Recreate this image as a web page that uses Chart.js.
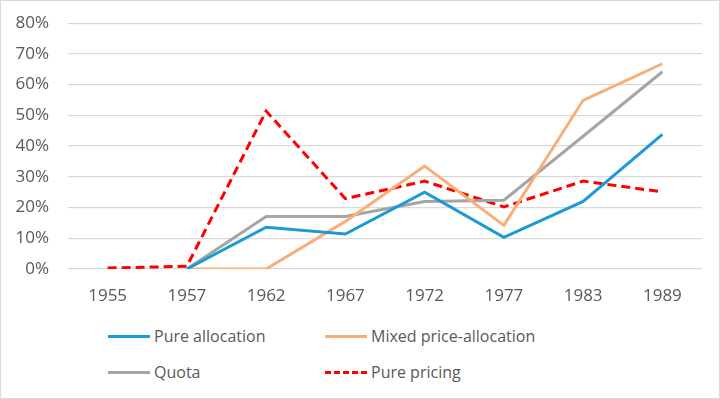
<!DOCTYPE html>
<html>
<head>
<meta charset="utf-8">
<script src="https://cdn.jsdelivr.net/npm/chart.js@4/dist/chart.umd.min.js"></script>
<style>
    body { margin: 0; background: #fff; }
    #wrap {
        position: relative;
        width: 718px;
        height: 397px;
        border: 1px solid #d9d9d9;
        font-family: "Open Sans", sans-serif;
    }
    #chartBox { position: absolute; left: 0; top: -7px; width: 718px; height: 319px; }
    #legend {
        position: absolute;
        left: 107px;
        top: 323px;
        display: grid;
        grid-template-columns: 217px 260px;
        row-gap: 12px;
        font-size: 16px;
        color: #595959;
    }
    .item { display: flex; align-items: center; height: 24px; }
    .swatch { width: 42px; height: 0; margin-right: 4px; }
</style>
</head>
<body>
<div id="wrap">
    <div id="chartBox"><canvas id="chart"></canvas></div>
    <div id="legend"></div>
</div>
<script>
const years = ["1955", "1957", "1962", "1967", "1972", "1977", "1983", "1989"];

const pureAllocation = [null, 0, 13.6, 11.4, 25.0, 10.3, 22.0, 43.8];
const mixedPriceAllocation = [null, 0, 0, 15.5, 33.5, 14.2, 54.9, 66.8];
const quota = [null, 0, 17.1, 17.1, 22.0, 22.4, 43.2, 64.2];
const purePricing = [0.3, 0.9, 51.4, 22.9, 28.6, 20.2, 28.6, 25.1];

const seriesNames = ["Pure allocation", "Mixed price-allocation", "Quota", "Pure pricing"];
const seriesColors = ["#1b9ad6", "#f9ae78", "#a5a5a5", "#ff0000"];

function makeSet(i, values, dashed) {

    return {
        label: seriesNames[i],
        data: values,
        borderColor: seriesColors[i],
        backgroundColor: seriesColors[i],
        borderWidth: 3,
        borderDash: dashed ? [9, 5] : [],
        pointRadius: 0,
        tension: 0,
        spanGaps: false
    };
}

const ctx = document.getElementById("chart").getContext("2d");

const chart = new Chart(ctx, {

    type: "line",

    data: {
        labels: years,
        datasets: [
            makeSet(0, pureAllocation, false),
            makeSet(1, mixedPriceAllocation, false),
            makeSet(2, quota, false),
            makeSet(3, purePricing, true)
        ]
    },

    options: {

        responsive: true,
        maintainAspectRatio: false,
        animation: false,

        layout: {
            padding: { top: 7, right: 17, left: 0, bottom: 0 }
        },

        plugins: {
            legend: { display: false },
            tooltip: { enabled: false }
        },

        scales: {

            x: {
                offset: true,
                grid: { display: false, drawTicks: false },
                border: { display: false },
                ticks: {
                    color: "#595959",
                    padding: 17,
                    font: { family: "Open Sans", size: 17 }
                },
                afterFit: (s) => { s.height = 44; }
            },

            y: {
                min: 0,
                max: 80,
                grid: { color: "#d9d9d9", lineWidth: 1.3, drawTicks: false },
                border: { display: false },
                ticks: {
                    stepSize: 10,
                    color: "#595959",
                    padding: 19,
                    font: { family: "Open Sans", size: 17 },
                    callback: (v) => v + "%"
                },
                afterFit: (s) => { s.width = 67; }
            }
        }
    }
});

// legend laid out as the 2 x 2 grid of the original
const legendBox = document.getElementById("legend");

chart.data.datasets.forEach((ds) => {

    const item = document.createElement("div");
    item.className = "item";

    const swatch = document.createElement("span");
    swatch.className = "swatch";
    swatch.style.borderTop = ds.borderDash.length
        ? "3px dashed " + ds.borderColor
        : "3px solid " + ds.borderColor;

    const text = document.createElement("span");
    text.textContent = ds.label;

    item.appendChild(swatch);
    item.appendChild(text);
    legendBox.appendChild(item);
});
</script>
</body>
</html>
